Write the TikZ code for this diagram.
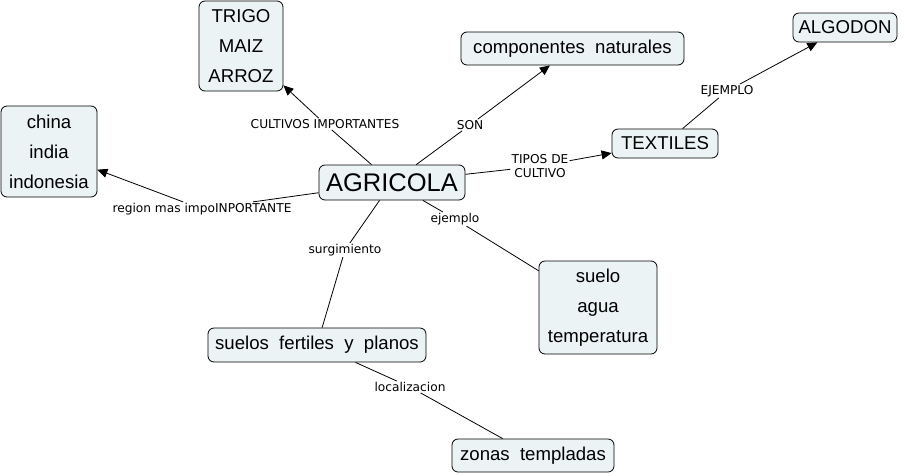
\documentclass[tikz,border=0pt]{standalone}
\usepackage{fontspec}
\setmainfont{Liberation Sans}
\newfontfamily\lblfont{DejaVu Sans}
\usetikzlibrary{arrows.meta}
\definecolor{boxfill}{RGB}{236,243,245}
\tikzset{
  box/.style={draw=black, fill=boxfill, rounded corners=6pt, line width=0.8pt, inner sep=0pt, align=center, font=\fontsize{18.6}{30}\selectfont},
  lbl/.style={inner sep=1pt, align=center, font=\lblfont\fontsize{12.2}{14}\selectfont},
  conn/.style={line width=0.8pt, draw=black},
  arr/.style={conn, -{Triangle[length=10pt,width=9pt]}}
}
\begin{document}
\begin{tikzpicture}[x=1pt,y=-1pt]
\useasboundingbox (0,0) rectangle (905,475);
% nodes
\node[box, minimum width=84pt, minimum height=90pt] (trigo) at (241,46) {TRIGO\\MAIZ\\ARROZ};
\node[box, minimum width=96pt, minimum height=91pt] (china) at (49,151.5) {china\\india\\indonesia};
\node[box, minimum width=146pt, minimum height=35pt, font=\fontsize{25.5}{30}\selectfont] (agri) at (392,182.5) {AGRICOLA};
\node[box, minimum width=223pt, minimum height=33pt] (comp) at (572.5,48.5) {componentes\ \ naturales};
\node[box, minimum width=104pt, minimum height=29pt] (algo) at (845,27.5) {ALGODON};
\node[box, minimum width=106pt, minimum height=29pt] (text) at (665,143.5) {TEXTILES};
\node[box, minimum width=118pt, minimum height=93pt] (suelo) at (598,307.5) {suelo\\agua\\temperatura};
\node[box, minimum width=218pt, minimum height=34pt] (fert) at (317,345) {suelos\ \ fertiles\ \ y\ \ planos};
\node[box, minimum width=162pt, minimum height=33pt] (zonas) at (533,455.5) {zonas\ \ templadas};
% labels
\node[lbl] (l1) at (325,124) {CULTIVOS IMPORTANTES};
\node[lbl] (l2) at (470,125) {SON};
\node[lbl] (l3) at (540,166) {TIPOS DE\\CULTIVO};
\node[lbl] (l4) at (727,91) {EJEMPLO};
\node[lbl] (l5) at (202,209) {region mas impoINPORTANTE};
\node[lbl] (l6) at (455,219) {ejemplo};
\node[lbl] (l7) at (345,250) {surgimiento};
\node[lbl] (l8) at (410,387) {localizacion};
% connectors
\draw[conn] (agri) -- (l1); \draw[arr] (l1) -- (trigo);
\draw[conn] (agri) -- (l2); \draw[arr] (l2) -- (comp);
\draw[conn] (agri) -- (l3); \draw[arr] (l3) -- (text);
\draw[conn] (text) -- (l4); \draw[arr] (l4) -- (algo);
\draw[conn] (agri) -- (l5); \draw[arr] (l5) -- (china);
\draw[conn] (agri) -- (l6); \draw[conn] (l6) -- (suelo);
\draw[conn] (agri) -- (l7); \draw[conn] (l7) -- (fert);
\draw[conn] (fert) -- (l8); \draw[conn] (l8) -- (zonas);
\end{tikzpicture}
\end{document}
